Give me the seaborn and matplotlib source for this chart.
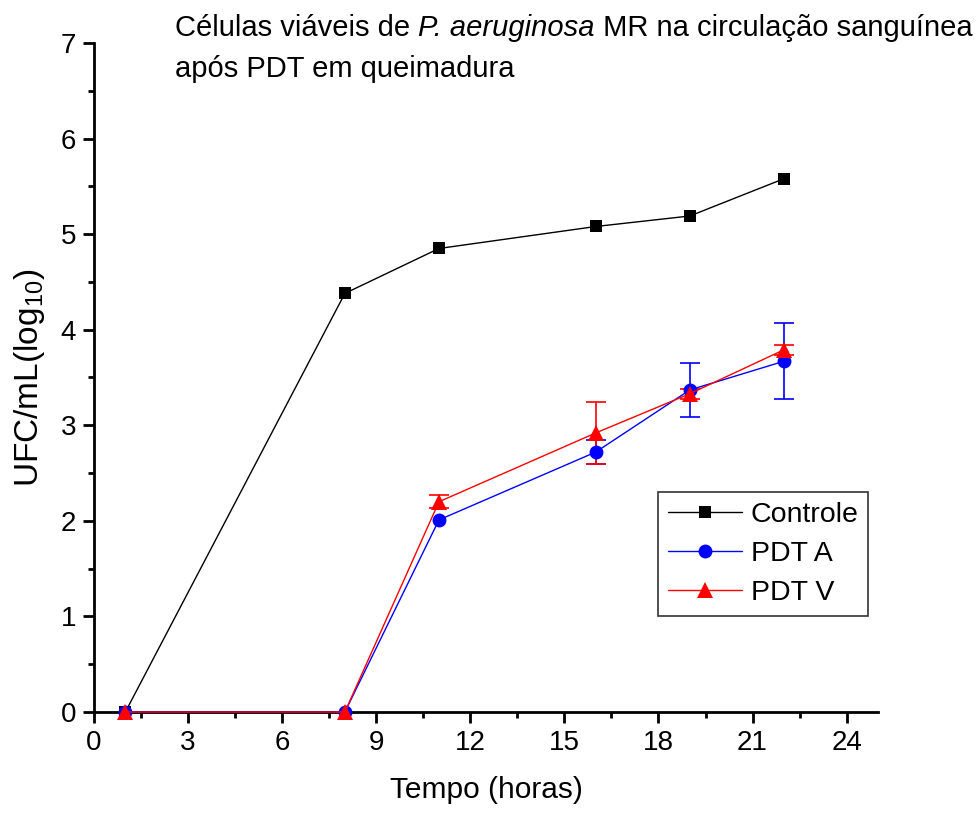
import numpy as np
import pandas as pd
import seaborn as sns
import matplotlib
matplotlib.use("Agg")
import matplotlib.pyplot as plt
from matplotlib.ticker import MultipleLocator
from matplotlib.lines import Line2D

hours = [1, 8, 11, 16, 19, 22]
controle = [0.0, 4.38, 4.85, 5.08, 5.19, 5.58]
controle_err = [0.0, 0.0, 0.0, 0.0, 0.0, 0.0]
pdt_a = [0.0, 0.0, 2.01, 2.72, 3.37, 3.67]
pdt_a_err = [0.0, 0.0, 0.0, 0.13, 0.28, 0.40]
pdt_v = [0.0, 0.0, 2.20, 2.92, 3.33, 3.79]
pdt_v_err = [0.0, 0.0, 0.07, 0.32, 0.05, 0.05]
series_names = ["Controle", "PDT A", "PDT V"]
title_parts = [("Células viáveis de ", "normal"), ("P. aeruginosa", "italic"),
               (" MR na circulação sanguínea", "normal")]
title_line2 = "após PDT em queimadura"

sns.set_style("ticks")
plt.rcParams['font.family'] = ['Liberation Sans', 'DejaVu Sans']
plt.rcParams['mathtext.fontset'] = 'custom'
plt.rcParams['mathtext.rm'] = 'Liberation Sans'
plt.rcParams['mathtext.it'] = 'Liberation Sans:italic'
for k in ['text.color', 'axes.labelcolor', 'xtick.color', 'ytick.color', 'axes.edgecolor']:
    plt.rcParams[k] = 'black'

df = pd.DataFrame({
    "hours": hours * 3,
    "value": controle + pdt_a + pdt_v,
    "err": controle_err + pdt_a_err + pdt_v_err,
    "series": sum([[n] * len(hours) for n in series_names], []),
})

fig = plt.figure(figsize=(9.8, 8.13), dpi=100)
ax = fig.add_axes([94/980, 1 - 712/813, (878-94)/980, (712-43)/813])

colors = {"Controle": "black", "PDT A": "blue", "PDT V": "red"}
markers = {"Controle": "s", "PDT A": "o", "PDT V": "^"}
msizes = {"Controle": 8, "PDT A": 10, "PDT V": 11}

for name in series_names:
    sub = df[(df.series == name) & (df.err > 0)]
    if len(sub):
        ax.errorbar(sub.hours, sub.value, yerr=sub.err, fmt="none",
                    ecolor=colors[name], elinewidth=1.2, capsize=7, capthick=1.2,
                    clip_on=False, zorder=2)

sns.lineplot(data=df, x="hours", y="value", hue="series", style="series",
             palette=colors, markers=markers, dashes=False, ax=ax,
             linewidth=1.0, markeredgewidth=0, legend=False, zorder=3)
for line, name in zip(ax.get_lines()[-3:], series_names):
    line.set_markersize(msizes[name])
    line.set_clip_on(False)

ax.set_xlim(0, 25)
ax.set_ylim(0, 7)
ax.set_xticks(range(0, 25, 3))
ax.xaxis.set_minor_locator(MultipleLocator(1.5))
ax.yaxis.set_major_locator(MultipleLocator(1))
ax.yaxis.set_minor_locator(MultipleLocator(0.5))
ax.tick_params(which="major", direction="out", length=8, width=2, labelsize=20, pad=5)
ax.tick_params(which="minor", direction="out", length=4, width=2)
for s in ["left", "bottom"]:
    ax.spines[s].set_linewidth(2)
sns.despine(ax=ax)

ax.set_xlabel("Tempo (horas)", fontsize=21.5, labelpad=14)
ax.set_ylabel("UFC/mL(log$_{10}$)", fontsize=24, labelpad=10)

# Title with italic species name, drawn as consecutive text pieces
fs_title = 21
renderer = fig.canvas.get_renderer()
x_px = 175
y1_px = 813 - 36
for txt, style in title_parts:
    t = fig.text(x_px / 980, y1_px / 813, txt, fontsize=fs_title, style=style,
                 ha="left", va="baseline")
    bb = t.get_window_extent(renderer=renderer)
    x_px += bb.width
fig.text(175 / 980, (813 - 77) / 813, title_line2, fontsize=fs_title,
         ha="left", va="baseline")

handles = [Line2D([], [], color=colors[n], marker=markers[n], markersize=msizes[n],
                  markeredgewidth=0, linewidth=1.0) for n in series_names]
leg = ax.legend(handles, series_names, loc="upper left",
                bbox_to_anchor=((658-94)/784, 1 - (492-43)/669),
                fontsize=20.5, frameon=True, fancybox=False, edgecolor="black",
                handlelength=2.6, handletextpad=0.3, borderpad=0.35, labelspacing=0.45,
                borderaxespad=0)
leg.get_frame().set_linewidth(1.2)

fig.savefig("out.png", dpi=100)
